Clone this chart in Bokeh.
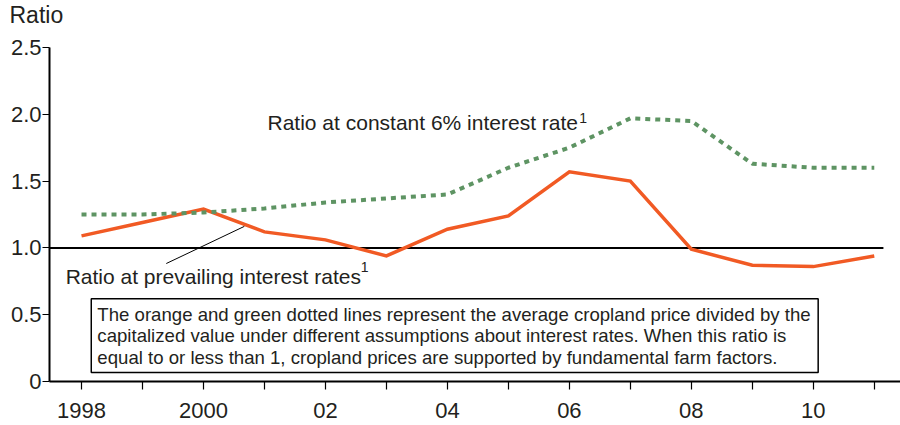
from bokeh.plotting import figure
from bokeh.models import Range1d, FixedTicker, Label, BoxAnnotation, Title
from bokeh.embed import file_html
from bokeh.resources import INLINE

# ---- data ----
years = [1998, 1999, 2000, 2001, 2002, 2003, 2004, 2005, 2006, 2007, 2008, 2009, 2010, 2011]
ratio_prevailing = [1.09, 1.19, 1.29, 1.12, 1.06, 0.94, 1.14, 1.24, 1.57, 1.50, 0.99, 0.87, 0.86, 0.94]
ratio_constant6 = [1.25, 1.25, 1.265, 1.295, 1.34, 1.37, 1.40, 1.60, 1.75, 1.97, 1.95, 1.63, 1.60, 1.60]
reference_level = 1.0
y_ticks = [0, 0.5, 1.0, 1.5, 2.0, 2.5]
y_tick_labels = ["0", "0.5", "1.0", "1.5", "2.0", "2.5"]
x_tick_labels = {1998: "1998", 2000: "2000", 2002: "02", 2004: "04", 2006: "06", 2008: "08", 2010: "10"}
note_lines = [
    "The orange and green dotted lines represent the average cropland price divided by the",
    "capitalized value under different assumptions about interest rates. When this ratio is",
    "equal to or less than 1, cropland prices are supported by fundamental farm factors.",
]

FONT = "Liberation Sans"
ORANGE = "#F15A24"
GREEN = "#5E9463"
TEXT = "#231f20"

p = figure(width=900, height=425, output_backend="svg", toolbar_location=None,
           x_range=Range1d(1997.475, 2011.43), y_range=Range1d(0, 2.5),
           min_border_left=49, min_border_right=0, min_border_top=47, min_border_bottom=44)
p.outline_line_color = None
p.xgrid.visible = False
p.ygrid.visible = False
p.background_fill_color = "white"
p.border_fill_color = "white"

# y-axis title at top-left: a thin spacer title, then the "Ratio" title above it
spacer = Title(text=" ", text_font_size="2px", standoff=14)
ratio_title = Title(text="Ratio", text_font=FONT, text_font_size="23px",
                    text_font_style="normal", text_color=TEXT, align="left",
                    offset=-40, vertical_align="top", standoff=0)
p.add_layout(spacer, "above")
p.add_layout(ratio_title, "above")

# axes
p.xaxis.ticker = FixedTicker(ticks=years)
p.xaxis.major_label_overrides = {y: x_tick_labels.get(y, "") for y in years}
p.xaxis.minor_tick_line_color = None
p.xaxis.major_tick_in = 0
p.xaxis.major_tick_out = 8
p.xaxis.major_tick_line_width = 1.2
p.xaxis.axis_line_width = 2
p.xaxis.major_label_text_font = FONT
p.xaxis.major_label_text_font_size = "22px"
p.xaxis.major_label_text_color = TEXT
p.xaxis.major_label_standoff = 13

p.yaxis.ticker = FixedTicker(ticks=y_ticks)
p.yaxis.major_label_overrides = {t: l for t, l in zip(y_ticks, y_tick_labels)}
p.yaxis.minor_tick_line_color = None
p.yaxis.major_tick_in = 0
p.yaxis.major_tick_out = 7
p.yaxis.major_tick_line_width = 1.2
p.yaxis.axis_line_width = 2
p.yaxis.major_label_text_font = FONT
p.yaxis.major_label_text_font_size = "22px"
p.yaxis.major_label_text_color = TEXT
p.yaxis.major_label_standoff = 1

# reference line at 1.0
p.line([p.x_range.start, years[-1] + 0.15], [reference_level, reference_level],
       line_color="black", line_width=2)

# series
p.line(years, ratio_prevailing, line_color=ORANGE, line_width=3.5, line_join="miter")
p.line(years, ratio_constant6, line_color=GREEN, line_width=4, line_dash="5 5")

# note box
p.add_layout(BoxAnnotation(left=1998.16, right=2010.08, bottom=0.068, top=0.62,
                           fill_color="white", fill_alpha=1.0,
                           line_color="black", line_alpha=1.0, line_width=1.5))
for i, txt in enumerate(note_lines):
    p.add_layout(Label(x=1998.26, y=0.50 - i * 0.159, text=txt, text_font=FONT,
                       text_font_size="18.6px", text_baseline="middle", text_color=TEXT))

# series labels
p.add_layout(Label(x=2001.05, y=1.936, text="Ratio at constant 6% interest rate",
                   text_font=FONT, text_font_size="21px", text_baseline="middle",
                   text_color=TEXT))
p.add_layout(Label(x=2006.16, y=1.975, text="1", text_font=FONT, text_font_size="14px",
                   text_baseline="middle", text_color=TEXT))
p.add_layout(Label(x=1997.74, y=0.786, text="Ratio at prevailing interest rates",
                   text_font=FONT, text_font_size="21px", text_baseline="middle",
                   text_color=TEXT))
p.add_layout(Label(x=2002.58, y=0.86, text="1", text_font=FONT, text_font_size="14px",
                   text_baseline="middle", text_color=TEXT))
# leader line
p.line([1999.39, 2000.67], [0.883, 1.161], line_color="black", line_width=1)

open("out.html", "w").write(file_html(p, INLINE))
